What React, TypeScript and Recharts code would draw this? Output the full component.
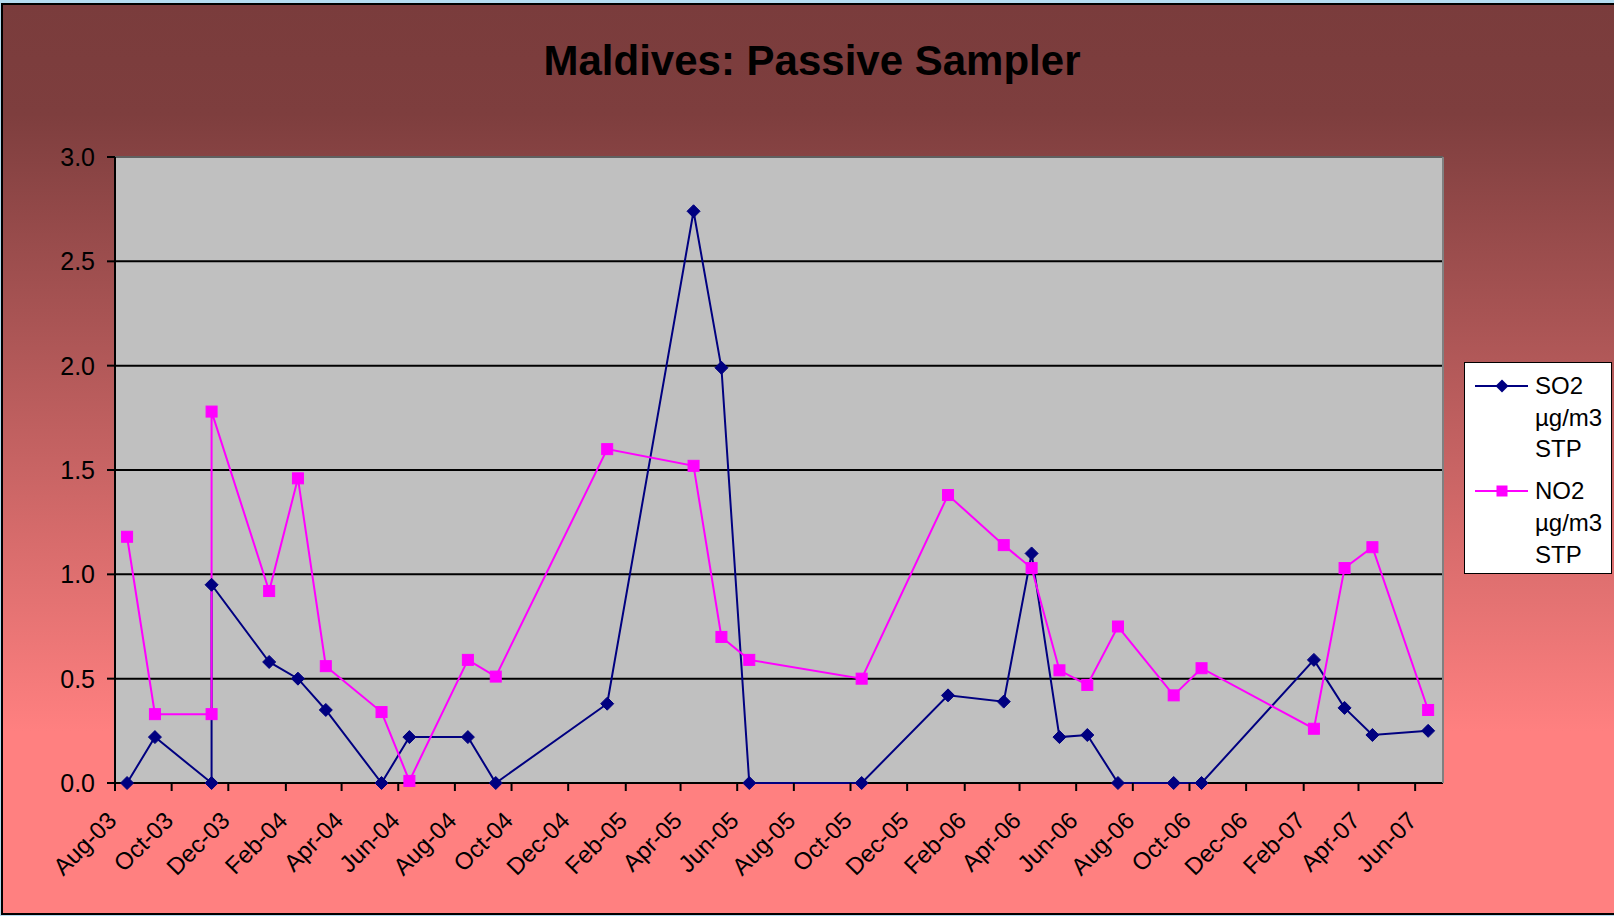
import React from "react";
import {
  LineChart,
  Line,
  XAxis,
  YAxis,
  CartesianGrid,
  Legend,
  ReferenceLine,
} from "recharts";

// ---- data ----
const sampleDates = [
  "2003-08-14", "2003-09-13", "2003-11-13", "2003-11-13", "2004-01-14",
  "2004-02-14", "2004-03-15", "2004-05-14", "2004-06-13", "2004-08-15",
  "2004-09-14", "2005-01-12", "2005-04-15", "2005-05-15", "2005-06-14",
  "2005-10-13", "2006-01-14", "2006-03-15", "2006-04-14", "2006-05-14",
  "2006-06-13", "2006-07-16", "2006-09-14", "2006-10-14", "2007-02-12",
  "2007-03-17", "2007-04-16", "2007-06-15",
];
const so2Values = [
  0, 0.22, 0, 0.95, 0.58, 0.5, 0.35, 0, 0.22, 0.22, 0, 0.38, 2.74, 1.99, 0,
  0, 0.42, 0.39, 1.1, 0.22, 0.23, 0, 0, 0, 0.59, 0.36, 0.23, 0.25,
];
const no2Values = [
  1.18, 0.33, 0.33, 1.78, 0.92, 1.46, 0.56, 0.34, 0.01, 0.59, 0.51, 1.6, 1.52,
  0.7, 0.59, 0.5, 1.38, 1.14, 1.03, 0.54, 0.47, 0.75, 0.42, 0.55, 0.26, 1.03,
  1.13, 0.35,
];
const xTickDates = [
  "2003-08-01", "2003-10-01", "2003-12-01", "2004-02-01", "2004-04-01",
  "2004-06-01", "2004-08-01", "2004-10-01", "2004-12-01", "2005-02-01",
  "2005-04-01", "2005-06-01", "2005-08-01", "2005-10-01", "2005-12-01",
  "2006-02-01", "2006-04-01", "2006-06-01", "2006-08-01", "2006-10-01",
  "2006-12-01", "2007-02-01", "2007-04-01", "2007-06-01",
];
const xTickLabels = [
  "Aug-03", "Oct-03", "Dec-03", "Feb-04", "Apr-04", "Jun-04", "Aug-04",
  "Oct-04", "Dec-04", "Feb-05", "Apr-05", "Jun-05", "Aug-05", "Oct-05",
  "Dec-05", "Feb-06", "Apr-06", "Jun-06", "Aug-06", "Oct-06", "Dec-06",
  "Feb-07", "Apr-07", "Jun-07",
];
const yTicks = [0, 0.5, 1, 1.5, 2, 2.5, 3];
const axisStartDate = "2003-08-01";
const axisEndDate = "2007-07-01";
const titleText = "Maldives: Passive Sampler";
const so2Name = "SO2 µg/m3 STP";
const no2Name = "NO2 µg/m3 STP";
const seriesOrder = ["so2", "no2"];

// ---- helpers ----
const toMs = (s: string) => {
  const [y, m, d] = s.split("-").map(Number);
  return Date.UTC(y, m - 1, d);
};
const data = sampleDates.map((d, i) => ({
  t: toMs(d),
  so2: so2Values[i],
  no2: no2Values[i],
}));
const tickMs = xTickDates.map(toMs);
const labelByMs: Record<number, string> = {};
tickMs.forEach((ms, i) => (labelByMs[ms] = xTickLabels[i]));
const startMs = toMs(axisStartDate);
const endMs = toMs(axisEndDate);

const FONT = "'Liberation Sans', Arial, Helvetica, sans-serif";
const SO2_COLOR = "#000080";
const NO2_COLOR = "#FF00FF";

const XTick = (props: any) => {
  const { x, y, payload } = props;
  const ax = x + 3;
  const ay = y + 29;
  return (
    <text
      x={ax}
      y={ay}
      transform={`rotate(-45 ${ax} ${ay})`}
      textAnchor="end"
      fontFamily={FONT}
      fontSize={24}
      fill="#000"
    >
      {labelByMs[payload.value] ?? ""}
    </text>
  );
};

const Diamond = (props: any) => {
  const { cx, cy, index } = props;
  if (cx == null || cy == null) return <g key={`d${index}`} />;
  const r = 6.5;
  return (
    <path
      key={`d${index}`}
      d={`M${cx},${cy - r}L${cx + r},${cy}L${cx},${cy + r}L${cx - r},${cy}Z`}
      fill={SO2_COLOR}
      stroke={SO2_COLOR}
      strokeWidth={1}
    />
  );
};

const Square = (props: any) => {
  const { cx, cy, index } = props;
  if (cx == null || cy == null) return <g key={`s${index}`} />;
  const h = 5.5;
  return (
    <rect
      key={`s${index}`}
      x={cx - h}
      y={cy - h}
      width={h * 2}
      height={h * 2}
      fill={NO2_COLOR}
      stroke={NO2_COLOR}
      strokeWidth={1}
    />
  );
};

const LegendContent = (props: any) => {
  const payload = [...(props.payload || [])].sort(
    (a: any, b: any) =>
      seriesOrder.indexOf(a.dataKey) - seriesOrder.indexOf(b.dataKey)
  );
  return (
    <div
      style={{
        boxSizing: "border-box",
        width: 148,
        height: 212,
        background: "#fff",
        border: "1.5px solid #000",
        paddingTop: 7,
        fontFamily: FONT,
        fontSize: 24,
        lineHeight: "31.7px",
        color: "#000",
      }}
    >
      {payload.map((entry: any, i: number) => {
        const isSo2 = entry.dataKey === "so2";
        const color = isSo2 ? SO2_COLOR : NO2_COLOR;
        const words = String(entry.value).split(" ");
        return (
          <div
            key={i}
            style={{ display: "flex", marginBottom: 10, position: "relative" }}
          >
            <svg width={70} height={32} style={{ flex: "none" }}>
              <line x1={10} y1={16} x2={63} y2={16} stroke={color} strokeWidth={2} />
              {isSo2 ? (
                <path d="M37,9.5L43.5,16L37,22.5L30.5,16Z" fill={color} />
              ) : (
                <rect x={31.5} y={10.5} width={11} height={11} fill={color} />
              )}
            </svg>
            <div>
              {words.map((w, j) => (
                <div key={j}>{w}</div>
              ))}
            </div>
          </div>
        );
      })}
    </div>
  );
};

export default function App() {
  return (
    <div
      style={{
        position: "absolute",
        left: 0,
        top: 0,
        width: 1614,
        height: 916,
        background: "#B4DCF0",
        overflow: "hidden",
      }}
    >
      <div
        style={{
          position: "absolute",
          left: 1,
          top: 3,
          width: 1660,
          height: 908,
          border: "2px solid #000",
          background:
            "linear-gradient(to bottom, #7A3C3C 0%, #7E3E3E 12%, #FF8080 80%, #FF8080 100%)",
        }}
      />
      <div style={{ position: "absolute", left: 0, top: 0 }}>
        <LineChart
          width={1614}
          height={916}
          data={data}
          margin={{ top: 157, right: 171, bottom: 33, left: 0 }}
        >
          <CartesianGrid
            vertical={false}
            fill="#C0C0C0"
            fillOpacity={1}
            stroke="#000"
            strokeWidth={2}
          />
          <XAxis
            type="number"
            dataKey="t"
            domain={[startMs, endMs]}
            ticks={tickMs}
            interval={0}
            height={100}
            tickSize={8}
            tick={<XTick />}
            axisLine={false}
            tickLine={{ stroke: "#000", strokeWidth: 2 }}
          />
          <YAxis
            type="number"
            domain={[0, 3]}
            ticks={yTicks}
            interval={0}
            width={115}
            tickSize={8}
            tickMargin={12}
            tickFormatter={(v: number) => v.toFixed(1)}
            tick={{ fill: "#000", fontSize: 25, fontFamily: FONT }}
            axisLine={{ stroke: "#000", strokeWidth: 2 }}
            tickLine={{ stroke: "#000", strokeWidth: 2 }}
          />
          <ReferenceLine y={3} stroke="#808080" strokeWidth={1.5} />
          <ReferenceLine x={endMs} stroke="#808080" strokeWidth={2} />
          <Line
            type="linear"
            dataKey="so2"
            name={so2Name}
            stroke={SO2_COLOR}
            strokeWidth={2}
            dot={(p: any) => <Diamond {...p} />}
            activeDot={false}
            isAnimationActive={false}
          />
          <Line
            type="linear"
            dataKey="no2"
            name={no2Name}
            stroke={NO2_COLOR}
            strokeWidth={2}
            dot={(p: any) => <Square {...p} />}
            activeDot={false}
            isAnimationActive={false}
          />
          <Legend
            layout="vertical"
            align="center"
            verticalAlign="middle"
            content={<LegendContent />}
            wrapperStyle={{ left: 1464, top: 362, width: 148, height: 212 }}
          />
        </LineChart>
      </div>
      <svg
        width={1614}
        height={916}
        style={{ position: "absolute", left: 0, top: 0, pointerEvents: "none" }}
      >
        <text
          x={812}
          y={75}
          textAnchor="middle"
          fontFamily={FONT}
          fontWeight="bold"
          fontSize={42}
          fill="#000"
        >
          {titleText}
        </text>
      </svg>
    </div>
  );
}
